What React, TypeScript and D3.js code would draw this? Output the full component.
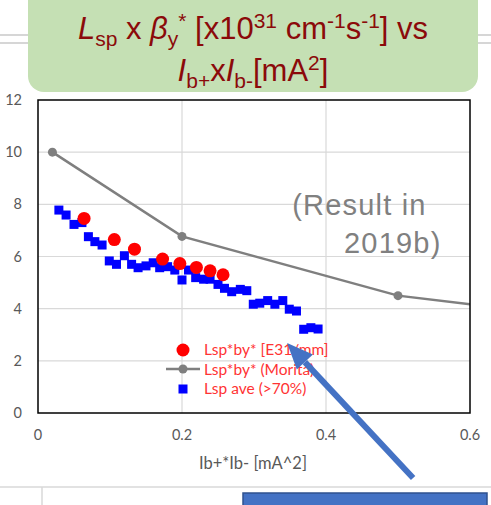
import React from 'react';
import * as d3 from 'd3';

const W = 491;
const H = 505;

// axis ticks
const xTicks = [0, 0.2, 0.4, 0.6];
const yTicks = [0, 2, 4, 6, 8, 10, 12];

// Lsp*by* (Morita)
const moritaX = [0.02, 0.2, 0.5, 0.8];
const moritaY = [10.0, 6.77, 4.5, 3.5];

// Lsp*by* [E31/mm]
const e3X = [0.064, 0.106, 0.134, 0.173, 0.197, 0.22, 0.239, 0.257];
const e3Y = [7.46, 6.65, 6.28, 5.9, 5.73, 5.58, 5.45, 5.3];

// Lsp ave (>70%)
const aveX = [0.029, 0.039, 0.05, 0.061, 0.07, 0.079, 0.089, 0.099, 0.109, 0.12, 0.13, 0.139, 0.15, 0.16, 0.169, 0.18, 0.19, 0.2, 0.209, 0.219, 0.23, 0.239, 0.25, 0.259, 0.269, 0.281, 0.29, 0.299, 0.308, 0.319, 0.329, 0.34, 0.349, 0.359, 0.369, 0.379, 0.389];
const aveY = [7.78, 7.59, 7.23, 7.3, 6.76, 6.57, 6.44, 5.83, 5.7, 6.03, 5.7, 5.57, 5.64, 5.76, 5.57, 5.61, 5.48, 5.1, 5.48, 5.19, 5.13, 5.13, 4.93, 4.78, 4.65, 4.74, 4.69, 4.17, 4.21, 4.31, 4.17, 4.31, 3.98, 3.91, 3.21, 3.27, 3.22];

const legendLabels = ['Lsp*by* [E31/mm]', 'Lsp*by* (Morita)', 'Lsp ave (>70%)'];

const margin = { left: 38, right: 21, top: 100, bottom: 92 };
const plotW = W - margin.left - margin.right;
const plotH = H - margin.top - margin.bottom;

const x = d3.scaleLinear().domain([0, 0.6]).range([0, plotW]);
const y = d3.scaleLinear().domain([0, 12]).range([plotH, 0]);

type Seg = { t: string; k?: 'sub' | 'sup'; i?: boolean };

// title pieces with sub/superscripts
const title1: Seg[] = [
  { t: 'L', i: true }, { t: 'sp', k: 'sub' }, { t: ' x ' }, { t: 'β', i: true },
  { t: 'y', k: 'sub' }, { t: '*', k: 'sup' }, { t: ' [x10' }, { t: '31', k: 'sup' },
  { t: ' cm' }, { t: '-1', k: 'sup' }, { t: 's' }, { t: '-1', k: 'sup' }, { t: '] vs' },
];
const title2: Seg[] = [
  { t: 'I', i: true }, { t: 'b+', k: 'sub' }, { t: 'x' }, { t: 'I', i: true },
  { t: 'b-', k: 'sub' }, { t: '[mA' }, { t: '2', k: 'sup' }, { t: ']' },
];

const renderSegs = (segs: Seg[]) => {
  let cur = 0;
  return segs.map((s, i) => {
    const target = s.k === 'sub' ? 7 : s.k === 'sup' ? -11 : 0;
    const dy = target - cur;
    cur = target;
    return (
      <tspan key={i} dy={dy} fontSize={s.k ? 21 : 31} fontStyle={s.i ? 'italic' : 'normal'}>
        {s.t}
      </tspan>
    );
  });
};

const App = () => {
  const line = d3.line<number>().x((d, i) => x(moritaX[i])).y(d => y(d));
  const lab = '#595959';
  const grid = '#d9d9d9';

  // arrow annotation in data space
  const tip = [x(0.346), y(2.68)];
  const tail = [x(0.521), y(-2.49)];
  const dx = tip[0] - tail[0];
  const dy = tip[1] - tail[1];
  const len = Math.sqrt(dx * dx + dy * dy);
  const ux = dx / len, uy = dy / len;
  const hl = 26, hw = 11;
  const base = [tip[0] - ux * hl, tip[1] - uy * hl];
  const head = [
    tip,
    [base[0] - uy * hw, base[1] + ux * hw],
    [base[0] + uy * hw, base[1] - ux * hw],
  ];

  return (
    <svg width={W} height={H} style={{ position: 'absolute', left: 0, top: 0, background: '#fff' }}
      fontFamily="Lato, 'Liberation Sans', sans-serif">
      {/* slide background lines */}
      <line x1={0} x2={W} y1={35} y2={35} stroke="#d6d6d6" strokeWidth={2} />
      <line x1={0} x2={W} y1={43} y2={43} stroke="#d6d6d6" strokeWidth={2} />
      <line x1={0} x2={W} y1={487} y2={487} stroke="#d9d9d9" strokeWidth={1.5} />
      <line x1={42} x2={42} y1={487} y2={H} stroke="#d9d9d9" strokeWidth={1.5} />

      {/* title box */}
      <rect x={28} y={-15} width={450} height={107} rx={16} fill="#c5e0b4" />
      <text x={253} y={39} textAnchor="middle" fill="#8b0a0a" fontFamily="'Liberation Sans', Arial, sans-serif">
        {renderSegs(title1)}
      </text>
      <text x={253} y={81} textAnchor="middle" fill="#8b0a0a" fontFamily="'Liberation Sans', Arial, sans-serif">
        {renderSegs(title2)}
      </text>

      <defs>
        <clipPath id="plotclip">
          <rect x={0} y={0} width={plotW} height={plotH} />
        </clipPath>
      </defs>

      <g transform={`translate(${margin.left},${margin.top})`}>
        {yTicks.slice(1, -1).map(t => (
          <line key={t} x1={0} x2={plotW} y1={y(t)} y2={y(t)} stroke={grid} strokeWidth={1.2} />
        ))}
        {xTicks.slice(1, -1).map(t => (
          <line key={t} y1={0} y2={plotH} x1={x(t)} x2={x(t)} stroke={grid} strokeWidth={1.2} />
        ))}

        {yTicks.map(t => (
          <text key={t} x={-16} y={y(t)} dy="0.35em" textAnchor="end" fontSize={14.5} fill={lab}>{t}</text>
        ))}
        {xTicks.map(t => (
          <text key={t} x={x(t)} y={plotH + 22} dy="0.35em" textAnchor="middle" fontSize={14.5} fill={lab}>{t}</text>
        ))}
        <text x={plotW / 2 - 1} y={plotH + 50} dy="0.35em" textAnchor="middle" fontSize={16.5} fill={lab}>
          Ib+*Ib- [mA^2]
        </text>

        <text x={x(0.353)} y={y(7.6)} fontSize={29} letterSpacing={1.2} fill="#808080" fontFamily="'Liberation Sans', Arial, sans-serif">(Result in</text>
        <text x={x(0.425)} y={y(6.15)} fontSize={29} letterSpacing={1.2} fill="#808080" fontFamily="'Liberation Sans', Arial, sans-serif">2019b)</text>

        <g clipPath="url(#plotclip)">
          <path d={line(moritaY) || ''} fill="none" stroke="#7f7f7f" strokeWidth={2.5} />
          {moritaY.map((v, i) => (
            <circle key={i} cx={x(moritaX[i])} cy={y(v)} r={4.5} fill="#7f7f7f" />
          ))}
        </g>
        {aveY.map((v, i) => (
          <rect key={i} x={x(aveX[i]) - 4.5} y={y(v) - 4.5} width={9} height={9} fill="#0000ff" />
        ))}
        {e3Y.map((v, i) => (
          <circle key={i} cx={x(e3X[i])} cy={y(v)} r={6.5} fill="#ff0000" />
        ))}

        <rect x={0} y={0} width={plotW} height={plotH} fill="none" stroke="#000" strokeWidth={1.5} />

        {/* legend */}
        <g transform={`translate(${145},${250})`}>
          <circle cx={0} cy={0} r={6.5} fill="#ff0000" />
          <line x1={-17} x2={17} y1={19} y2={19} stroke="#7f7f7f" strokeWidth={2.5} />
          <circle cx={0} cy={19} r={4.5} fill="#7f7f7f" />
          <rect x={-4.5} y={34.5} width={9} height={9} fill="#0000ff" />
          {legendLabels.map((l, i) => (
            <text key={l} x={21} y={i * 19.5} dy="0.35em" fontSize={15.5} fill="#ff3333">{l}</text>
          ))}
        </g>
      </g>

      {/* annotation arrow */}
      <g transform={`translate(${margin.left},${margin.top})`}>
        <line x1={tail[0]} y1={tail[1]} x2={base[0]} y2={base[1]} stroke="#4472c4" strokeWidth={6} />
        <polygon points={head.map(p => p.join(',')).join(' ')} fill="#4472c4" />
      </g>

      <rect x={243} y={493} width={244} height={20} fill="#4472c4" stroke="#2f528f" strokeWidth={1.5} />
    </svg>
  );
};

export default App;
